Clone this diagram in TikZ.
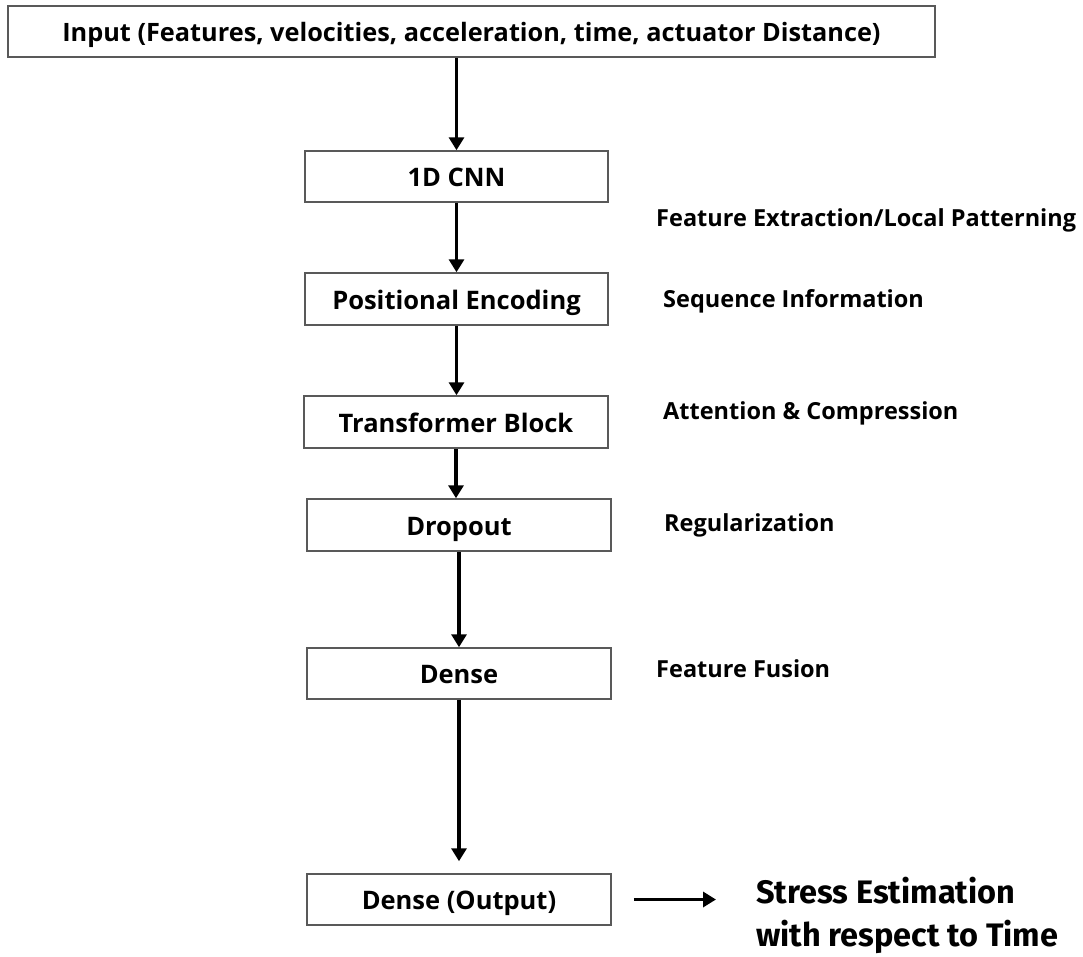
\documentclass[tikz,border=0pt]{standalone}
\usepackage{fontspec}
\setmainfont{Open Sans}
\newfontfamily\outfont{Fira Sans}
\usetikzlibrary{arrows.meta}
\begin{document}
\begin{tikzpicture}[x=1pt,y=-1pt,
  layer/.style={draw=black!65,line width=1.5pt,fill=white,inner sep=0pt,
    text height=20pt,text depth=0pt,
    minimum width=304pt,minimum height=51pt,font=\fontsize{25.5}{30}\selectfont\bfseries},
  note/.style={anchor=west,inner sep=0pt,font=\fontsize{23.5}{28}\selectfont\bfseries},
  flow/.style={line width=3.5pt,-{Triangle[width=15pt,length=13pt]}}]
\useasboundingbox[fill=white] (0,0) rectangle (1083,956);

% layer stack
\node[layer,minimum width=927pt,font=\fontsize{25.3}{30}\selectfont\bfseries] (inp) at (471.5,31.5)
  {Input (Features, velocities, acceleration, time, actuator Distance)};
\node[layer,minimum width=303pt] (cnn) at (456.5,176.5) {1D CNN};
\node[layer,minimum width=303pt,minimum height=52pt] (pos) at (456.5,299) {Positional Encoding};
\node[layer,minimum height=52pt] (tra) at (456,422) {Transformer Block};
\node[layer,minimum height=52pt] (drop) at (459,525) {Dropout};
\node[layer] (den) at (459,673.5) {Dense};
\node[layer] (out) at (459,899.5) {Dense (Output)};

% stage descriptions
\node[note] (n1) at (656,220) {Feature Extraction/Local Patterning};
\node[note] (n2) at (663,301) {Sequence Information};
\node[note] (n3) at (663,413) {Attention \& Compression};
\node[note] (n4) at (664,525) {Regularization};
\node[note] (n5) at (656,669) {Feature Fusion};

% final result
\node[anchor=west,inner sep=0pt,align=left,
  font=\outfont\fontsize{32.5}{43}\selectfont\bfseries] (res) at (756,915)
  {Stress Estimation\\with respect to Time};

% connectors
\draw[flow] (cnn.north |- inp.south) -- (cnn.north);
\draw[flow] (cnn.south) -- (cnn.south |- pos.north);
\draw[flow] (pos.south) -- (pos.south |- tra.north);
\draw[flow] (tra.south) -- (tra.south |- drop.north);
\draw[flow] (drop.south) -- (den.north);
\draw[flow,shorten >=12pt] (den.south) -- (out.north);
\draw[flow,shorten <=22pt,shorten >=40pt] (out.east) -- (out.east -| res.west);
\end{tikzpicture}
\end{document}
